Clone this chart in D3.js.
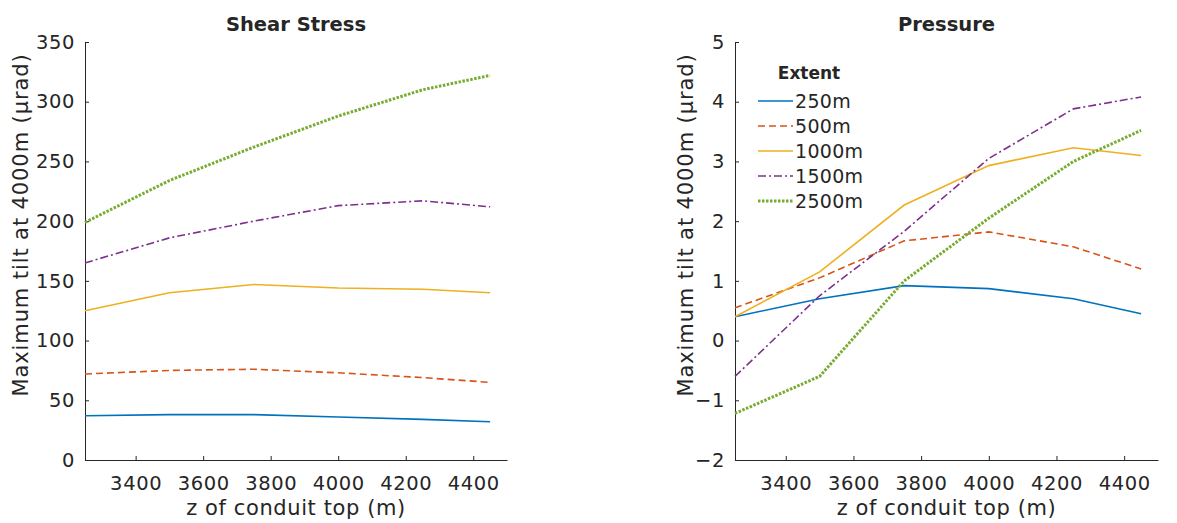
<!DOCTYPE html>
<html>
<head>
<meta charset="utf-8">
<script src="https://cdn.jsdelivr.net/npm/d3@7"></script>
<style>
  body { margin: 0; background: #fff; }
  text { font-family: "DejaVu Sans", sans-serif; fill: #262626; }
</style>
</head>
<body>
<svg id="chart" width="1177" height="523"></svg>
<script>
// x positions (z of conduit top, m)
var zTop = [3250, 3500, 3750, 4000, 4250, 4450]
var extents = ["250m", "500m", "1000m", "1500m", "2500m"]

// shear stress panel, one array per extent
var shear_250 = [37, 38, 38, 36, 34, 32]
var shear_500 = [72, 75, 76, 73, 69, 65]
var shear_1000 = [125, 140, 147, 144, 143, 140]
var shear_1500 = [165, 186, 200, 213, 217, 212]
var shear_2500 = [199, 234, 262, 288, 310, 322]

// pressure panel
var press_250 = [0.4, 0.7, 0.92, 0.87, 0.7, 0.45]
var press_500 = [0.55, 1.05, 1.67, 1.82, 1.57, 1.2]
var press_1000 = [0.4, 1.15, 2.27, 2.93, 3.23, 3.1]
var press_1500 = [-0.6, 0.75, 1.83, 3.05, 3.88, 4.08]
var press_2500 = [-1.22, -0.6, 1.0, 2.05, 3.0, 3.52]

var xTicks = [3400, 3600, 3800, 4000, 4200, 4400]
var shearTicks = [0, 50, 100, 150, 200, 250, 300, 350]
var pressTicks = [-2, -1, 0, 1, 2, 3, 4, 5]

// matlab default colours + line styles
var colors = ["#0072BD", "#D95319", "#EDB120", "#7E2F8E", "#77AC30"]
var dashes = [null, "7,4", null, "8,3,2,3", "2.5,1.5"]
var widths = [1.6, 1.6, 1.6, 1.6, 3]

var svg = d3.select("#chart")

function draw_panel(left, right, title, yDomain, yTicks, series, labelOffset, showLegend) {
    var top = 42, bottom = 460
    var x = d3.scaleLinear().domain([3250, 4500]).range([left, right])
    var y = d3.scaleLinear().domain(yDomain).range([bottom, top])
    // no commas / decimals, real minus sign
    var fmt = function(d) { return d < 0 ? "\u2212" + Math.abs(d) : String(d) }

    var g = svg.append("g")

    // axes (ticks point inward like matlab)
    var xAxis = d3.axisBottom(x).tickValues(xTicks).tickFormat(fmt).tickSize(-4).tickSizeOuter(0).tickPadding(12)
    var gx = g.append("g").attr("transform", "translate(0," + bottom + ")").call(xAxis)
    var yAxis = d3.axisLeft(y).tickValues(yTicks).tickFormat(fmt).tickSize(-4).tickSizeOuter(0).tickPadding(10)
    var gy = g.append("g").attr("transform", "translate(" + left + ",0)").call(yAxis)

    ;[gx, gy].forEach(function(a) {
        a.selectAll("path").attr("stroke", "#262626").attr("stroke-width", 1)
        a.selectAll("line").attr("stroke", "#262626")
        a.selectAll("text").style("font-size", "19.5px").attr("fill", "#262626")
            .style("font-family", "DejaVu Sans, sans-serif")
            .style("letter-spacing", "0.6px")
    })
    gx.selectAll("text").attr("dy", "0.9em")

    var line = d3.line()
        .x(function(d, i) { return x(zTop[i]) })
        .y(function(d) { return y(d) })

    series.forEach(function(s, i) {
        g.append("path")
            .datum(s)
            .attr("d", line)
            .attr("fill", "none")
            .attr("stroke", colors[i])
            .attr("stroke-width", widths[i])
            .attr("stroke-dasharray", dashes[i])
    })

    g.append("text")
        .attr("x", (left + right) / 2)
        .attr("y", 31)
        .attr("text-anchor", "middle")
        .style("font-size", "19.5px")
        .style("font-weight", "bold")
        .attr("fill", "#000")
        .text(title)

    g.append("text")
        .attr("x", (left + right) / 2)
        .attr("y", 515)
        .attr("text-anchor", "middle")
        .style("font-size", "21px")
        .style("letter-spacing", "0.6px")
        .text("z of conduit top (m)")

    g.append("text")
        .attr("transform", "translate(" + (left - labelOffset) + ",225) rotate(-90)")
        .attr("text-anchor", "middle")
        .style("font-size", "21px")
        .style("letter-spacing", "0.9px")
        .text("Maximum tilt at 4000m (\u03bcrad)")

    if (showLegend) {
        var lg = g.append("g")
        lg.append("text")
            .attr("x", 809).attr("y", 79)
            .attr("text-anchor", "middle")
            .style("font-size", "17px")
            .style("font-weight", "bold")
            .attr("fill", "#000")
            .text("Extent")
        var rowY = d3.scalePoint().domain(extents).range([101, 201])
        extents.forEach(function(e, i) {
            lg.append("line")
                .attr("x1", 758).attr("x2", 793)
                .attr("y1", rowY(e)).attr("y2", rowY(e))
                .attr("stroke", colors[i])
                .attr("stroke-width", widths[i])
                .attr("stroke-dasharray", dashes[i])
            lg.append("text")
                .attr("x", 795).attr("y", rowY(e))
                .attr("dy", "0.36em")
                .style("font-size", "19px")
                .style("letter-spacing", "0.3px")
                .text(e)
        })
    }
}

draw_panel(85, 507, "Shear Stress", [0, 350], shearTicks,
    [shear_250, shear_500, shear_1000, shear_1500, shear_2500], 57, false)
draw_panel(735, 1158, "Pressure", [-2, 5], pressTicks,
    [press_250, press_500, press_1000, press_1500, press_2500], 42, true)
</script>
</body>
</html>
